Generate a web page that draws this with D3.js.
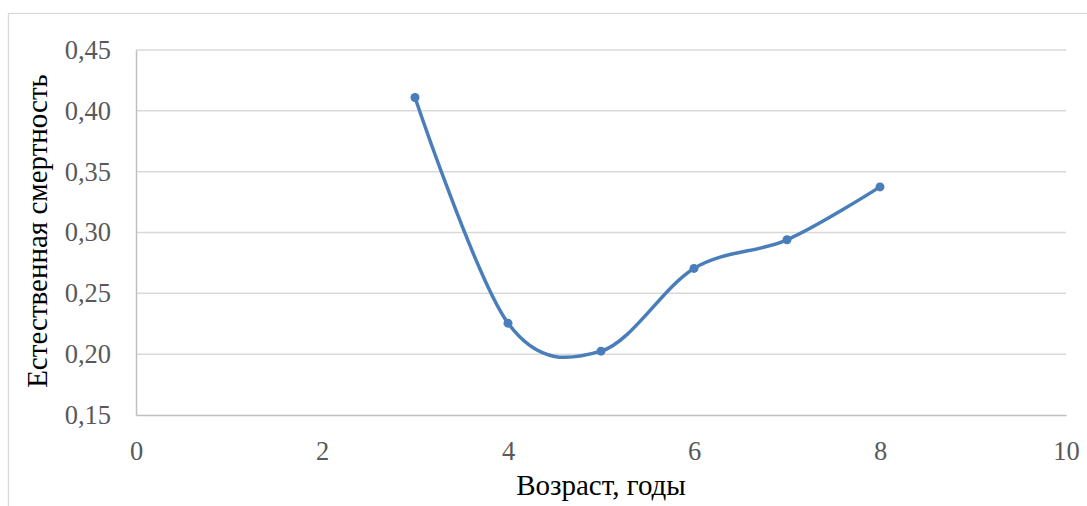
<!DOCTYPE html>
<html><head><meta charset="utf-8">
<script src="https://cdn.jsdelivr.net/npm/d3@7"></script>
<style>body{margin:0;background:#fff;} svg{display:block;}</style>
</head><body>
<svg id="c" width="1087" height="506"></svg>
<script>
const ages = [3, 4, 5, 6, 7, 8];
const mortality = [0.411, 0.2255, 0.2025, 0.2705, 0.294, 0.3375];
const yTicks = [0.15, 0.20, 0.25, 0.30, 0.35, 0.40, 0.45];
const xTicks = [0, 2, 4, 6, 8, 10];
const yTitle = "Естественная смертность";
const xTitle = "Возраст, годы";

const svg = d3.select("#c");
const font = "'Liberation Serif','Times New Roman',serif";
const x = d3.scaleLinear().domain([0, 10]).range([136, 1066]);
const y = d3.scaleLinear().domain([0.15, 0.45]).range([415, 50]);

// outer chart border
svg.append("rect").attr("x", 8.5).attr("y", 13.5).attr("width", 1200).attr("height", 600)
  .attr("fill", "none").attr("stroke", "#d9d9d9").attr("stroke-width", 1.3);

// gridlines
svg.append("g").selectAll("line").data(yTicks.slice(1)).join("line")
  .attr("x1", x(0)).attr("x2", x(10)).attr("y1", d => y(d)).attr("y2", d => y(d))
  .attr("stroke", "#d9d9d9").attr("stroke-width", 1.5);

// y axis
const ya = svg.append("g").attr("transform", `translate(${x(0)},0)`)
  .call(d3.axisLeft(y).tickValues(yTicks).tickSize(0).tickPadding(25)
    .tickFormat(d => d3.format(".2f")(d).replace(".", ",")));
ya.select(".domain").attr("stroke", "#bfbfbf").attr("stroke-width", 1.5);
ya.selectAll("text").attr("font-family", font).attr("font-size", 26.5).attr("fill", "#595959");

// x axis
const xa = svg.append("g").attr("transform", `translate(0,${y(0.15)})`)
  .call(d3.axisBottom(x).tickValues(xTicks).tickSize(0).tickPadding(26));
xa.select(".domain").attr("stroke", "#bfbfbf").attr("stroke-width", 1.5);
xa.selectAll("text").attr("font-family", font).attr("font-size", 26.5).attr("fill", "#595959");

// titles
svg.append("text").attr("transform", `translate(47,231) rotate(-90)`)
  .attr("text-anchor", "middle").attr("font-family", font).attr("font-size", 29)
  .attr("fill", "#000").text(yTitle);
svg.append("text").attr("x", 601).attr("y", 495)
  .attr("text-anchor", "middle").attr("font-family", font).attr("font-size", 29)
  .attr("fill", "#000").text(xTitle);

// line
const data = ages.map((a, i) => [a, mortality[i]]);
svg.append("path").datum(data)
  .attr("d", d3.line().x(d => x(d[0])).y(d => y(d[1])).curve(d3.curveCardinal.tension(0)))
  .attr("fill", "none").attr("stroke", "#4a7ebb").attr("stroke-width", 3.5).attr("stroke-linecap", "round");
svg.append("g").selectAll("circle").data(data).join("circle")
  .attr("cx", d => x(d[0])).attr("cy", d => y(d[1])).attr("r", 4.5).attr("fill", "#4a7ebb");
</script>
</body></html>
